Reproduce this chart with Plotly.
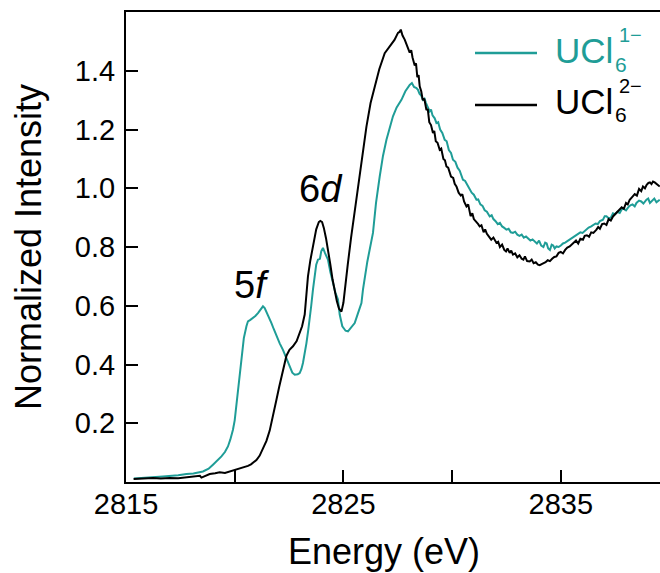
import plotly.graph_objects as go

# U L3-edge spectra, UCl6(1-) and UCl6(2-); each series split into edge and post-edge parts
energy_1m_edge = [
    2815.36, 2815.8, 2816.2, 2816.7, 2817.1, 2817.4, 2817.78, 2818.1, 2818.54, 2818.8,
    2819.0, 2819.2, 2819.39, 2819.55, 2819.69, 2819.8, 2819.92, 2820.0, 2820.15, 2820.23,
    2820.31, 2820.42, 2820.54, 2820.61, 2820.72, 2820.84, 2820.95, 2821.07, 2821.2, 2821.3,
    2821.38, 2821.46, 2821.58, 2821.69, 2821.8, 2821.92, 2822.07, 2822.22, 2822.38, 2822.53,
    2822.65, 2822.76, 2822.9, 2822.99, 2823.07, 2823.14, 2823.22, 2823.3, 2823.38, 2823.45,
    2823.52, 2823.6, 2823.68, 2823.75, 2823.83, 2823.92, 2823.98, 2824.06, 2824.15, 2824.22,
    2824.29, 2824.4, 2824.52, 2824.63, 2824.75, 2824.83, 2824.95, 2825.1, 2825.21, 2825.35,
    2825.52, 2825.65, 2825.83, 2825.9, 2826.1, 2826.36, 2826.5, 2826.67, 2826.82, 2826.98,
    2827.1, 2827.28, 2827.45, 2827.67, 2827.85,
]
intensity_1m_edge = [
    0.012, 0.013, 0.016, 0.019, 0.020, 0.023, 0.027, 0.029, 0.036, 0.045,
    0.059, 0.072, 0.087, 0.102, 0.121, 0.145, 0.178, 0.210, 0.314, 0.370,
    0.428, 0.490, 0.530, 0.547, 0.552, 0.558, 0.565, 0.575, 0.590, 0.598,
    0.592, 0.580, 0.560, 0.541, 0.520, 0.496, 0.472, 0.450, 0.420, 0.393,
    0.372, 0.365, 0.367, 0.371, 0.385, 0.405, 0.435, 0.473, 0.515, 0.553,
    0.600, 0.655, 0.700, 0.740, 0.757, 0.760, 0.785, 0.797, 0.780, 0.765,
    0.757, 0.715, 0.677, 0.645, 0.621, 0.570, 0.530, 0.515, 0.513, 0.525,
    0.541, 0.570, 0.609, 0.655, 0.750, 0.848, 0.950, 1.040, 1.110, 1.165,
    1.200, 1.245, 1.275, 1.301, 1.330,
]
energy_1m_post = [
    2828.05, 2828.15, 2828.25, 2828.36, 2828.43, 2828.5, 2828.58, 2828.66, 2828.73, 2828.8,
    2828.88, 2828.97, 2829.03, 2829.1, 2829.2, 2829.28, 2829.36, 2829.45, 2829.55, 2829.66,
    2829.75, 2829.85, 2829.95, 2830.04, 2830.15, 2830.25, 2830.35, 2830.5, 2830.6, 2830.7,
    2830.8, 2830.9, 2831.0, 2831.12, 2831.2, 2831.3, 2831.4, 2831.5, 2831.6, 2831.73,
    2831.82, 2831.9, 2832.0, 2832.1, 2832.2, 2832.3, 2832.4, 2832.5, 2832.6, 2832.7,
    2832.8, 2832.9, 2833.0, 2833.1, 2833.2, 2833.3, 2833.4, 2833.5, 2833.6, 2833.7,
    2833.8, 2833.9, 2834.0, 2834.1, 2834.2, 2834.28, 2834.35, 2834.42, 2834.5, 2834.58,
    2834.65, 2834.72, 2834.8, 2834.9, 2835.0, 2835.1, 2835.2, 2835.3, 2835.41, 2835.5,
    2835.6, 2835.7, 2835.8, 2835.9, 2836.0, 2836.1, 2836.18, 2836.28, 2836.4, 2836.5,
    2836.6, 2836.7, 2836.8, 2836.94, 2837.02, 2837.1, 2837.2, 2837.3, 2837.4, 2837.5,
    2837.6, 2837.71, 2837.8, 2837.9, 2838.0, 2838.1, 2838.2, 2838.3, 2838.4, 2838.48,
    2838.6, 2838.7, 2838.8, 2838.94, 2839.02, 2839.1, 2839.2, 2839.3, 2839.4, 2839.55,
]
intensity_1m_post = [
    1.352, 1.358, 1.345, 1.341, 1.335, 1.322, 1.315, 1.301, 1.305, 1.290,
    1.275, 1.262, 1.268, 1.248, 1.238, 1.222, 1.225, 1.200, 1.188, 1.165,
    1.160, 1.130, 1.120, 1.097, 1.090, 1.070, 1.060, 1.029, 1.025, 1.010,
    0.995, 0.985, 0.978, 0.961, 0.962, 0.945, 0.940, 0.925, 0.920, 0.904,
    0.908, 0.895, 0.888, 0.878, 0.882, 0.870, 0.865, 0.859, 0.862, 0.850,
    0.848, 0.852, 0.842, 0.838, 0.842, 0.832, 0.836, 0.828, 0.822, 0.826,
    0.818, 0.812, 0.822, 0.805, 0.800, 0.815, 0.812, 0.795, 0.790, 0.808,
    0.805, 0.795, 0.802, 0.800, 0.805, 0.812, 0.815, 0.820, 0.825, 0.828,
    0.835, 0.840, 0.842, 0.850, 0.848, 0.855, 0.859, 0.866, 0.870, 0.875,
    0.880, 0.878, 0.888, 0.893, 0.905, 0.905, 0.898, 0.900, 0.915, 0.912,
    0.920, 0.916, 0.928, 0.930, 0.925, 0.935, 0.942, 0.945, 0.938, 0.950,
    0.958, 0.955, 0.948, 0.961, 0.965, 0.950, 0.958, 0.965, 0.952, 0.961,
]

energy_2m_edge = [
    2815.35, 2815.8, 2816.24, 2816.6, 2817.01, 2817.4, 2817.78, 2818.1, 2818.4, 2818.47,
    2818.85, 2819.1, 2819.31, 2819.55, 2819.77, 2820.08, 2820.25, 2820.38, 2820.5, 2820.61,
    2820.75, 2820.84, 2821.0, 2821.15, 2821.3, 2821.46, 2821.61, 2821.77, 2821.92, 2822.05,
    2822.15, 2822.27, 2822.38, 2822.52, 2822.68, 2822.85, 2822.99, 2823.1, 2823.22, 2823.3,
    2823.37, 2823.48, 2823.6, 2823.75, 2823.87, 2823.94, 2824.02, 2824.1, 2824.2, 2824.29,
    2824.4, 2824.5, 2824.6, 2824.7, 2824.8, 2824.91, 2825.0, 2825.06, 2825.2, 2825.35,
    2825.48, 2825.6, 2825.8, 2826.06, 2826.25, 2826.44, 2826.65, 2826.9, 2827.05, 2827.21,
    2827.35, 2827.51, 2827.58, 2827.64, 2827.72, 2827.82, 2827.9, 2827.95,
]
intensity_2m_edge = [
    0.010, 0.011, 0.014, 0.012, 0.014, 0.013, 0.017, 0.019, 0.021, 0.015,
    0.027, 0.030, 0.033, 0.031, 0.036, 0.042, 0.046, 0.048, 0.052, 0.055,
    0.060, 0.065, 0.075, 0.090, 0.112, 0.140, 0.175, 0.225, 0.280, 0.325,
    0.360, 0.400, 0.430, 0.450, 0.462, 0.480, 0.505, 0.530, 0.570, 0.630,
    0.700, 0.755, 0.800, 0.860, 0.885, 0.889, 0.885, 0.865, 0.830, 0.795,
    0.740, 0.690, 0.645, 0.615, 0.590, 0.580, 0.610, 0.655, 0.740, 0.830,
    0.900, 0.960, 1.060, 1.210, 1.290, 1.347, 1.405, 1.460, 1.475, 1.489,
    1.505, 1.529, 1.532, 1.540, 1.520, 1.506, 1.490, 1.478,
]
energy_2m_post = [
    2828.05, 2828.12, 2828.18, 2828.28, 2828.34, 2828.4, 2828.46, 2828.51, 2828.58, 2828.65,
    2828.72, 2828.82, 2828.88, 2828.95, 2829.03, 2829.12, 2829.18, 2829.25, 2829.33, 2829.43,
    2829.5, 2829.6, 2829.67, 2829.74, 2829.82, 2829.95, 2830.05, 2830.12, 2830.2, 2830.3,
    2830.4, 2830.47, 2830.55, 2830.66, 2830.74, 2830.85, 2830.93, 2831.0, 2831.1, 2831.2,
    2831.27, 2831.35, 2831.45, 2831.52, 2831.6, 2831.7, 2831.8, 2831.9, 2832.04, 2832.12,
    2832.2, 2832.3, 2832.4, 2832.48, 2832.55, 2832.65, 2832.72, 2832.8, 2832.9, 2833.0,
    2833.1, 2833.2, 2833.28, 2833.35, 2833.45, 2833.57, 2833.66, 2833.75, 2833.85, 2833.95,
    2834.03, 2834.12, 2834.2, 2834.3, 2834.4, 2834.5, 2834.6, 2834.7, 2834.8, 2834.9,
    2835.0, 2835.1, 2835.2, 2835.3, 2835.41, 2835.5, 2835.6, 2835.7, 2835.8, 2835.9,
    2836.02, 2836.1, 2836.2, 2836.3, 2836.4, 2836.5, 2836.64, 2836.72, 2836.8, 2836.9,
    2837.0, 2837.1, 2837.2, 2837.3, 2837.4, 2837.5, 2837.6, 2837.7, 2837.8, 2837.9,
    2838.0, 2838.08, 2838.17, 2838.28, 2838.4, 2838.5, 2838.6, 2838.7, 2838.78, 2838.87,
    2838.95, 2839.03, 2839.1, 2839.17, 2839.24, 2839.32, 2839.4, 2839.48, 2839.55,
]
intensity_2m_post = [
    1.462, 1.470, 1.445, 1.418, 1.425, 1.378, 1.385, 1.347, 1.330, 1.300,
    1.305, 1.266, 1.270, 1.225, 1.215, 1.188, 1.195, 1.160, 1.155, 1.131,
    1.135, 1.100, 1.095, 1.074, 1.070, 1.040, 1.035, 1.015, 1.006, 0.985,
    0.975, 0.980, 0.955, 0.938, 0.945, 0.905, 0.915, 0.895, 0.888, 0.878,
    0.870, 0.874, 0.850, 0.860, 0.845, 0.835, 0.825, 0.832, 0.814, 0.818,
    0.800, 0.808, 0.790, 0.785, 0.795, 0.780, 0.788, 0.774, 0.778, 0.765,
    0.772, 0.760, 0.757, 0.768, 0.752, 0.751, 0.757, 0.745, 0.748, 0.740,
    0.738, 0.742, 0.745, 0.748, 0.755, 0.752, 0.760, 0.766, 0.768, 0.780,
    0.783, 0.778, 0.790, 0.798, 0.802, 0.808, 0.815, 0.822, 0.812, 0.828,
    0.825, 0.838, 0.840, 0.835, 0.850, 0.848, 0.859, 0.868, 0.862, 0.878,
    0.880, 0.875, 0.895, 0.890, 0.904, 0.912, 0.918, 0.925, 0.935, 0.930,
    0.950, 0.945, 0.961, 0.970, 0.980, 0.975, 0.998, 0.990, 1.006, 1.000,
    1.012, 1.018, 1.020, 1.014, 1.023, 1.020, 1.015, 1.010, 1.006,
]

x_tick_vals = [2815, 2820, 2825, 2830, 2835]
x_tick_text = ["2815", "", "2825", "", "2835"]
y_tick_vals = [0.2, 0.4, 0.6, 0.8, 1.0, 1.2, 1.4]
y_tick_text = ["0.2", "0.4", "0.6", "0.8", "1.0", "1.2", "1.4"]

peak_labels = ["5<i>f</i>", "6<i>d</i>"]
peak_label_x = [2820.78, 2823.96]
peak_label_y = [0.672, 0.998]

series_names = ["UCl", "UCl"]
series_sub = ["6", "6"]
series_sup = ["1−", "2−"]

energy_ucl6_1m = energy_1m_edge + energy_1m_post
intensity_ucl6_1m = intensity_1m_edge + intensity_1m_post
energy_ucl6_2m = energy_2m_edge + energy_2m_post
intensity_ucl6_2m = intensity_2m_edge + intensity_2m_post
assert len(energy_ucl6_1m) == len(intensity_ucl6_1m)
assert len(energy_ucl6_2m) == len(intensity_ucl6_2m)

TEAL = "#1f9d97"
BLACK = "#000000"
FONT = "Liberation Sans, Arial, Helvetica, sans-serif"

W, H = 660, 573
ML, MR, MT, MB = 126, 0, 12, 91
PW, PH = W - ML - MR, H - MT - MB


def px(x):
    return (x - ML) / PW


def py(y):
    return (H - MB - y) / PH


fig = go.Figure()
fig.add_trace(go.Scatter(x=energy_ucl6_1m, y=intensity_ucl6_1m, mode="lines",
                         line=dict(color=TEAL, width=2), showlegend=False))
fig.add_trace(go.Scatter(x=energy_ucl6_2m, y=intensity_ucl6_2m, mode="lines",
                         line=dict(color=BLACK, width=2), showlegend=False))

annotations = []
for txt, ax, ay in zip(peak_labels, peak_label_x, peak_label_y):
    annotations.append(dict(x=ax, y=ay, xref="x", yref="y", text=txt, showarrow=False,
                            font=dict(family=FONT, size=38, color="black"),
                            xanchor="center", yanchor="middle"))

# x-axis caption
annotations.append(dict(x=px(384), y=py(551), xref="paper", yref="paper",
                        text="Energy (eV)", showarrow=False,
                        font=dict(family=FONT, size=36, color="black"),
                        xanchor="center", yanchor="middle"))

# key entries: line sample plus label with stacked subscript / superscript
key_colors = [TEAL, BLACK]
key_line_y = [53, 105]
key_text_y = [51, 101.7]
shapes = []
for i, col in enumerate(key_colors):
    shapes.append(dict(type="line", xref="paper", yref="paper",
                       x0=px(475), x1=px(537), y0=py(key_line_y[i]), y1=py(key_line_y[i]),
                       line=dict(color=col, width=2.5)))
    ty = key_text_y[i]
    annotations.append(dict(x=px(553), y=py(ty), xref="paper", yref="paper",
                            text=series_names[i], showarrow=False,
                            font=dict(family=FONT, size=35, color=col),
                            xanchor="left", yanchor="middle"))
    annotations.append(dict(x=px(613), y=py(ty + 13), xref="paper", yref="paper",
                            text=series_sub[i], showarrow=False,
                            font=dict(family=FONT, size=21, color=col),
                            xanchor="left", yanchor="middle"))
    annotations.append(dict(x=px(617), y=py(ty - 16), xref="paper", yref="paper",
                            text=series_sup[i], showarrow=False,
                            font=dict(family=FONT, size=20, color=col),
                            xanchor="left", yanchor="middle"))

fig.update_layout(
    width=W, height=H,
    margin=dict(l=ML, r=MR, t=MT, b=MB, pad=0),
    paper_bgcolor="white", plot_bgcolor="white",
    font=dict(family=FONT, color="black"),
    showlegend=False,
    annotations=annotations,
    shapes=shapes,
)
fig.update_xaxes(
    range=[2815, 2815 + PW / 21.74], tickmode="array", tickvals=x_tick_vals, ticktext=x_tick_text,
    ticks="inside", ticklen=12, tickwidth=2, tickcolor="black",
    showline=True, linewidth=2, linecolor="black", mirror=True,
    showgrid=False, zeroline=False, ticklabelstandoff=-5,
    tickfont=dict(family=FONT, size=29, color="black"),
)
fig.update_yaxes(
    range=[0, 1.6], tickmode="array", tickvals=y_tick_vals, ticktext=y_tick_text,
    ticks="inside", ticklen=12, tickwidth=2, tickcolor="black",
    showline=True, linewidth=2, linecolor="black", mirror=False,
    showgrid=False, zeroline=False, ticklabelstandoff=3,
    tickfont=dict(family=FONT, size=29, color="black"),
    title=dict(text="Normalized Intensity", font=dict(family=FONT, size=36, color="black"), standoff=22),
)

fig.write_html("out.html")
